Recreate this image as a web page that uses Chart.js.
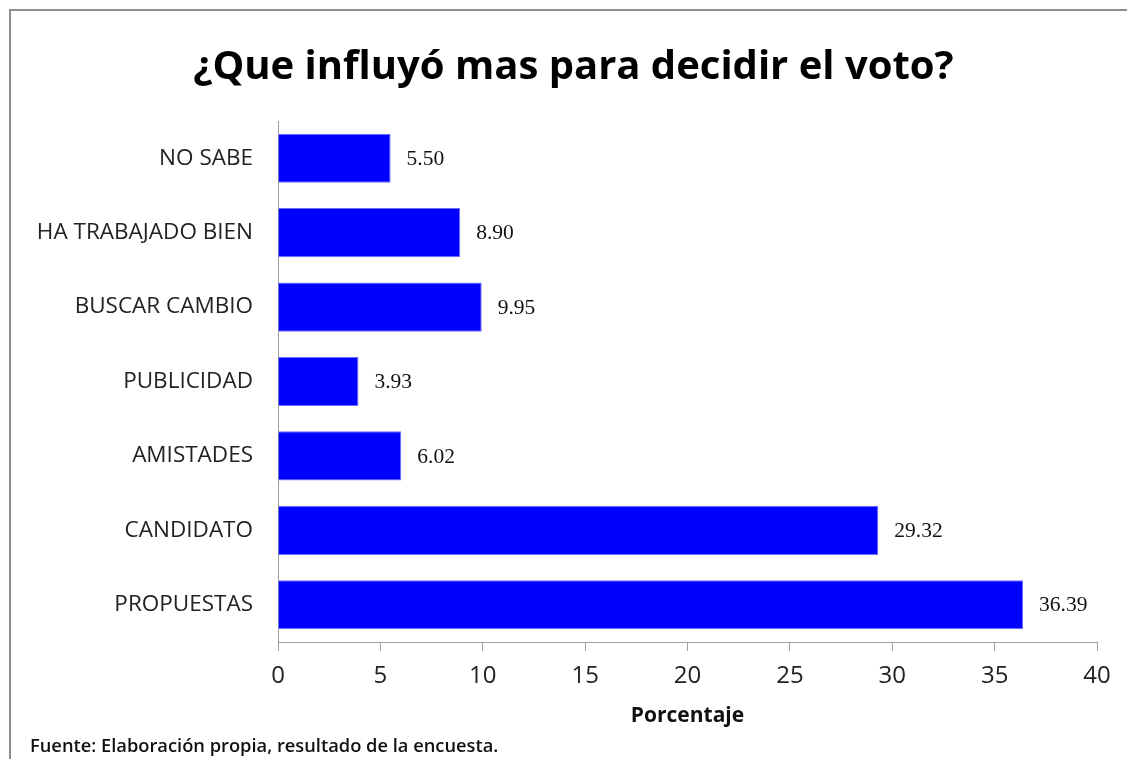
<!DOCTYPE html>
<html>
<head>
<meta charset="utf-8">
<script src="https://cdn.jsdelivr.net/npm/chart.js@4/dist/chart.umd.min.js"></script>
<style>
  body { margin: 0; background: #fff; }
  #wrap { position: relative; width: 1127px; height: 759px; overflow: hidden; }
  #frame { position: absolute; left: 9px; top: 9px; width: 1200px; height: 900px;
           border-left: 2px solid #8f8f8f; border-top: 2px solid #8f8f8f; }
  #fuente { position: absolute; left: 30px; top: 732px; font-family: "Open Sans", sans-serif;
            font-size: 18.3px; font-weight: 600; color: #111; }
  canvas { position: absolute; left: 0; top: 0; }
</style>
</head>
<body>
<div id="wrap">
  <div id="frame"></div>
  <canvas id="bar_chart" width="1127" height="759"></canvas>
  <div id="fuente">Fuente: Elaboración propia, resultado de la encuesta.</div>
</div>
<script>
// categories top to bottom, as in the picture
const categories = ["NO SABE", "HA TRABAJADO BIEN", "BUSCAR CAMBIO", "PUBLICIDAD", "AMISTADES", "CANDIDATO", "PROPUESTAS"];
const percentages = [5.50, 8.90, 9.95, 3.93, 6.02, 29.32, 36.39];
const x_ticks = [0, 5, 10, 15, 20, 25, 30, 35, 40];

// value labels next to each bar end
const value_labels = {
    id: 'value_labels',
    afterDatasetsDraw(chart) {
        const ctx = chart.ctx;
        const meta = chart.getDatasetMeta(0);
        ctx.save();
        ctx.font = '21.5px "Liberation Serif", serif';
        ctx.fillStyle = '#111';
        ctx.textBaseline = 'middle';
        meta.data.forEach((bar, i) => {
            ctx.fillText(percentages[i].toFixed(2), bar.x + 16, bar.y + 1);
        });
        ctx.restore();
    }
};

// title in the original sits a bit right of the canvas centre
const shift_title = {
    id: 'shift_title',
    afterLayout(chart) {
        if (chart.titleBlock) chart.titleBlock.left = 50;
    }
};

const bar_config = {
    type: 'bar',
    data: {
        labels: categories,
        datasets: [{
            label: "Porcentaje",
            data: percentages,
            backgroundColor: '#0000ff',
            borderColor: '#6f6fff',
            borderWidth: 1,
            barPercentage: 0.66,
            categoryPercentage: 1
        }]
    },
    options: {
        indexAxis: 'y',
        responsive: false,
        animation: false,
        layout: { padding: { left: 10, right: 30, top: 0, bottom: 30 } },
        plugins: {
            legend: { display: false },
            tooltip: { enabled: false },
            title: {
                display: true,
                text: "¿Que influyó mas para decidir el voto?",
                color: '#000',
                font: { family: '"Open Sans", sans-serif', size: 40, weight: 'bold' },
                padding: { top: 44, bottom: 29 }
            }
        },
        scales: {
            x: {
                min: 0,
                max: 40,
                afterBuildTicks: (scale) => { scale.ticks = x_ticks.map(v => ({ value: v })); },
                afterFit: (scale) => { scale.height = 87; },
                grid: { drawOnChartArea: false, color: '#a0a0a0', tickLength: 9 },
                border: { display: true, color: '#a0a0a0', width: 1 },
                ticks: {
                    color: '#222',
                    padding: 11,
                    font: { family: '"Open Sans", sans-serif', size: 24 }
                },
                title: {
                    display: true,
                    text: "Porcentaje",
                    color: '#111',
                    padding: 0,
                    font: { family: '"Open Sans", sans-serif', size: 21, weight: 'bold' }
                }
            },
            y: {
                afterFit: (scale) => { scale.width = 268; },
                grid: { display: false },
                border: { display: true, color: '#a0a0a0', width: 1 },
                ticks: {
                    color: '#222',
                    padding: 17,
                    font: { family: '"Open Sans", sans-serif', size: 22.5 }
                }
            }
        }
    },
    plugins: [value_labels, shift_title]
};

window.onload = function () {
    new Chart(document.getElementById("bar_chart").getContext('2d'), bar_config);
};
</script>
</body>
</html>
